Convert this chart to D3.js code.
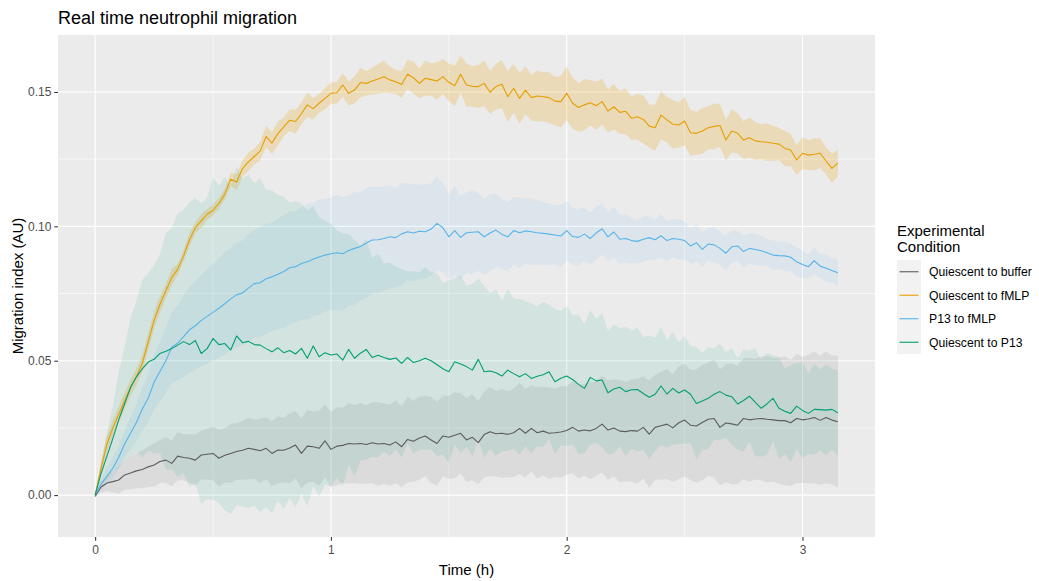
<!DOCTYPE html>
<html>
<head>
<meta charset="utf-8">
<script src="https://cdn.jsdelivr.net/npm/d3@7"></script>
<style>
  body { margin: 0; background: #ffffff; }
  svg { display: block; }
  text { font-family: "Liberation Sans", Arial, Helvetica, sans-serif; }
</style>
</head>
<body>
<svg id="chart" width="1039" height="581"></svg>
<script>
// ---- Data -------------------------------------------------------------
// Migration index (AU), sampled every 0.025 h from 0 to 3.15 h.
const timeStepH = 0.025;

const conditions = ["Quiescent to buffer", "Quiescent to fMLP", "P13 to fMLP", "Quiescent to P13"];
const lineColors = ["#5c5c5c", "#E69F00", "#56B4E9", "#009E73"];
const ribbonColors = ["#999999", "#E69F00", "#56B4E9", "#009E73"];
const ribbonOpacity = [0.2, 0.22, 0.1, 0.1];

const xTicks = [0, 1, 2, 3];
const xTickLabels = ["0", "1", "2", "3"];
const yTicks = [0, 0.05, 0.10, 0.15];
const yTickLabels = ["0.00", "0.05", "0.10", "0.15"];

// Quiescent to buffer
const bufferMean = [
  -0.0005, 0.0030, 0.0045, 0.0050, 0.0056, 0.0075, 0.0082, 0.0090, 0.0095, 0.0105,
  0.0112, 0.0125, 0.0130, 0.0118, 0.0145, 0.0140, 0.0137, 0.0130, 0.0149, 0.0152,
  0.0155, 0.0137, 0.0148, 0.0155, 0.0162, 0.0167, 0.0174, 0.0170, 0.0165, 0.0174,
  0.0155, 0.0168, 0.0167, 0.0175, 0.0186, 0.0155, 0.0182, 0.0180, 0.0174, 0.0202,
  0.0170, 0.0182, 0.0185, 0.0192, 0.0190, 0.0192, 0.0188, 0.0195, 0.0190, 0.0192,
  0.0186, 0.0198, 0.0180, 0.0207, 0.0200, 0.0212, 0.0220, 0.0205, 0.0192, 0.0220,
  0.0215, 0.0223, 0.0230, 0.0205, 0.0215, 0.0195, 0.0225, 0.0236, 0.0228, 0.0230,
  0.0226, 0.0232, 0.0248, 0.0230, 0.0248, 0.0232, 0.0238, 0.0230, 0.0232, 0.0235,
  0.0240, 0.0252, 0.0238, 0.0242, 0.0239, 0.0248, 0.0264, 0.0242, 0.0250, 0.0238,
  0.0236, 0.0240, 0.0238, 0.0252, 0.0227, 0.0252, 0.0258, 0.0264, 0.0250, 0.0269,
  0.0279, 0.0260, 0.0257, 0.0270, 0.0282, 0.0285, 0.0252, 0.0268, 0.0265, 0.0260,
  0.0285, 0.0280, 0.0283, 0.0285, 0.0282, 0.0280, 0.0277, 0.0277, 0.0269, 0.0285,
  0.0280, 0.0283, 0.0289, 0.0278, 0.0289, 0.0279, 0.0273
];
const bufferSE = [
  0.0000, 0.0020, 0.0030, 0.0040, 0.0050, 0.0055, 0.0060, 0.0065, 0.0070, 0.0075,
  0.0080, 0.0080, 0.0085, 0.0085, 0.0090, 0.0085, 0.0090, 0.0095, 0.0090, 0.0095,
  0.0100, 0.0105, 0.0100, 0.0110, 0.0105, 0.0110, 0.0115, 0.0110, 0.0120, 0.0115,
  0.0120, 0.0125, 0.0120, 0.0130, 0.0125, 0.0130, 0.0135, 0.0130, 0.0140, 0.0135,
  0.0140, 0.0145, 0.0140, 0.0150, 0.0145, 0.0150, 0.0145, 0.0150, 0.0155, 0.0150,
  0.0150, 0.0155, 0.0150, 0.0160, 0.0150, 0.0155, 0.0150, 0.0160, 0.0155, 0.0150,
  0.0155, 0.0160, 0.0150, 0.0155, 0.0160, 0.0155, 0.0160, 0.0165, 0.0160, 0.0165,
  0.0160, 0.0165, 0.0170, 0.0165, 0.0160, 0.0170, 0.0165, 0.0170, 0.0165, 0.0170,
  0.0165, 0.0170, 0.0175, 0.0170, 0.0180, 0.0175, 0.0180, 0.0185, 0.0180, 0.0190,
  0.0185, 0.0190, 0.0195, 0.0190, 0.0200, 0.0195, 0.0200, 0.0205, 0.0200, 0.0210,
  0.0210, 0.0205, 0.0210, 0.0215, 0.0210, 0.0220, 0.0215, 0.0220, 0.0225, 0.0220,
  0.0225, 0.0230, 0.0225, 0.0230, 0.0235, 0.0230, 0.0235, 0.0240, 0.0235, 0.0240,
  0.0235, 0.0240, 0.0245, 0.0240, 0.0245, 0.0240, 0.0245
];

// Quiescent to fMLP
const fmlpMean = [
  0.0000, 0.0100, 0.0190, 0.0250, 0.0300, 0.0350, 0.0400, 0.0440, 0.0490, 0.0570,
  0.0650, 0.0710, 0.0760, 0.0810, 0.0840, 0.0890, 0.0950, 0.0995, 0.1020, 0.1045,
  0.1060, 0.1085, 0.1120, 0.1175, 0.1165, 0.1215, 0.1240, 0.1260, 0.1280, 0.1334,
  0.1310, 0.1345, 0.1370, 0.1395, 0.1390, 0.1420, 0.1452, 0.1438, 0.1458, 0.1476,
  0.1495, 0.1497, 0.1526, 0.1495, 0.1507, 0.1535, 0.1532, 0.1541, 0.1548, 0.1557,
  0.1545, 0.1538, 0.1528, 0.1566, 0.1553, 0.1532, 0.1551, 0.1546, 0.1541, 0.1557,
  0.1536, 0.1523, 0.1566, 0.1526, 0.1521, 0.1520, 0.1532, 0.1499, 0.1520, 0.1529,
  0.1482, 0.1514, 0.1476, 0.1507, 0.1479, 0.1485, 0.1482, 0.1479, 0.1466, 0.1464,
  0.1495, 0.1458, 0.1442, 0.1452, 0.1460, 0.1449, 0.1464, 0.1429, 0.1445, 0.1424,
  0.1428, 0.1402, 0.1408, 0.1398, 0.1373, 0.1367, 0.1414, 0.1396, 0.1380, 0.1377,
  0.1392, 0.1348, 0.1346, 0.1355, 0.1367, 0.1372, 0.1375, 0.1321, 0.1355, 0.1346,
  0.1321, 0.1330, 0.1318, 0.1315, 0.1313, 0.1309, 0.1306, 0.1290, 0.1284, 0.1247,
  0.1272, 0.1265, 0.1268, 0.1272, 0.1243, 0.1216, 0.1235
];
const fmlpSE = [
  0.0000, 0.0020, 0.0030, 0.0030, 0.0030, 0.0030, 0.0030, 0.0030, 0.0030, 0.0030,
  0.0030, 0.0030, 0.0025, 0.0030, 0.0020, 0.0020, 0.0025, 0.0020, 0.0025, 0.0020,
  0.0020, 0.0020, 0.0020, 0.0025, 0.0030, 0.0030, 0.0035, 0.0030, 0.0035, 0.0040,
  0.0040, 0.0045, 0.0035, 0.0040, 0.0045, 0.0040, 0.0045, 0.0040, 0.0035, 0.0040,
  0.0040, 0.0040, 0.0045, 0.0045, 0.0050, 0.0055, 0.0045, 0.0050, 0.0055, 0.0060,
  0.0050, 0.0045, 0.0050, 0.0055, 0.0060, 0.0055, 0.0065, 0.0060, 0.0070, 0.0065,
  0.0070, 0.0075, 0.0070, 0.0080, 0.0075, 0.0080, 0.0085, 0.0080, 0.0085, 0.0090,
  0.0095, 0.0090, 0.0095, 0.0090, 0.0085, 0.0095, 0.0090, 0.0095, 0.0090, 0.0095,
  0.0100, 0.0095, 0.0090, 0.0095, 0.0085, 0.0090, 0.0085, 0.0080, 0.0085, 0.0080,
  0.0085, 0.0080, 0.0085, 0.0090, 0.0080, 0.0085, 0.0090, 0.0085, 0.0090, 0.0085,
  0.0090, 0.0085, 0.0080, 0.0085, 0.0080, 0.0085, 0.0080, 0.0075, 0.0080, 0.0075,
  0.0070, 0.0075, 0.0070, 0.0065, 0.0070, 0.0065, 0.0060, 0.0065, 0.0060, 0.0055,
  0.0060, 0.0055, 0.0060, 0.0055, 0.0050, 0.0055, 0.0050
];

// P13 to fMLP
const p13fmlpMean = [
  0.0000, 0.0040, 0.0070, 0.0100, 0.0140, 0.0190, 0.0230, 0.0270, 0.0320, 0.0360,
  0.0420, 0.0460, 0.0500, 0.0550, 0.0565, 0.0590, 0.0615, 0.0630, 0.0650, 0.0665,
  0.0680, 0.0695, 0.0712, 0.0730, 0.0745, 0.0752, 0.0770, 0.0787, 0.0790, 0.0805,
  0.0812, 0.0822, 0.0832, 0.0846, 0.0850, 0.0862, 0.0868, 0.0878, 0.0886, 0.0893,
  0.0898, 0.0902, 0.0898, 0.0910, 0.0918, 0.0925, 0.0938, 0.0949, 0.0950, 0.0955,
  0.0961, 0.0958, 0.0972, 0.0980, 0.0975, 0.0982, 0.0980, 0.0990, 0.1011, 0.0995,
  0.0961, 0.0984, 0.0959, 0.0976, 0.0978, 0.0980, 0.0961, 0.0975, 0.0986, 0.0970,
  0.0961, 0.0984, 0.0976, 0.0983, 0.0980, 0.0976, 0.0974, 0.0971, 0.0968, 0.0964,
  0.0984, 0.0962, 0.0959, 0.0971, 0.0955, 0.0975, 0.0991, 0.0961, 0.0979, 0.0952,
  0.0955, 0.0947, 0.0944, 0.0952, 0.0958, 0.0950, 0.0965, 0.0947, 0.0955, 0.0952,
  0.0947, 0.0927, 0.0939, 0.0914, 0.0934, 0.0931, 0.0918, 0.0900, 0.0924, 0.0927,
  0.0906, 0.0918, 0.0914, 0.0909, 0.0902, 0.0893, 0.0891, 0.0890, 0.0885, 0.0868,
  0.0858, 0.0850, 0.0872, 0.0852, 0.0844, 0.0836, 0.0827
];
const p13fmlpSE = [
  0.0000, 0.0020, 0.0030, 0.0040, 0.0040, 0.0050, 0.0060, 0.0070, 0.0080, 0.0090,
  0.0100, 0.0110, 0.0120, 0.0130, 0.0140, 0.0150, 0.0160, 0.0165, 0.0170, 0.0175,
  0.0180, 0.0185, 0.0190, 0.0190, 0.0195, 0.0195, 0.0200, 0.0200, 0.0205, 0.0205,
  0.0200, 0.0205, 0.0210, 0.0210, 0.0205, 0.0210, 0.0215, 0.0210, 0.0215, 0.0210,
  0.0210, 0.0215, 0.0210, 0.0205, 0.0210, 0.0200, 0.0205, 0.0200, 0.0195, 0.0195,
  0.0190, 0.0185, 0.0190, 0.0180, 0.0180, 0.0175, 0.0175, 0.0170, 0.0175, 0.0165,
  0.0160, 0.0165, 0.0155, 0.0150, 0.0155, 0.0145, 0.0140, 0.0145, 0.0135, 0.0130,
  0.0130, 0.0125, 0.0130, 0.0120, 0.0125, 0.0120, 0.0115, 0.0115, 0.0110, 0.0115,
  0.0110, 0.0105, 0.0105, 0.0100, 0.0095, 0.0100, 0.0095, 0.0090, 0.0095, 0.0090,
  0.0090, 0.0085, 0.0080, 0.0085, 0.0080, 0.0075, 0.0080, 0.0075, 0.0070, 0.0075,
  0.0070, 0.0065, 0.0070, 0.0065, 0.0060, 0.0065, 0.0060, 0.0065, 0.0060, 0.0055,
  0.0060, 0.0055, 0.0060, 0.0055, 0.0050, 0.0055, 0.0050, 0.0055, 0.0050, 0.0055,
  0.0050, 0.0045, 0.0050, 0.0045, 0.0050, 0.0045, 0.0050
];

// Quiescent to P13
const p13Mean = [
  0.0000, 0.0080, 0.0145, 0.0210, 0.0280, 0.0340, 0.0400, 0.0440, 0.0470, 0.0495,
  0.0505, 0.0527, 0.0535, 0.0545, 0.0558, 0.0571, 0.0560, 0.0575, 0.0527, 0.0545,
  0.0583, 0.0560, 0.0564, 0.0540, 0.0592, 0.0567, 0.0572, 0.0560, 0.0558, 0.0545,
  0.0533, 0.0548, 0.0530, 0.0538, 0.0525, 0.0546, 0.0509, 0.0555, 0.0515, 0.0530,
  0.0521, 0.0525, 0.0502, 0.0542, 0.0509, 0.0528, 0.0542, 0.0512, 0.0520, 0.0512,
  0.0505, 0.0510, 0.0490, 0.0512, 0.0493, 0.0500, 0.0509, 0.0500, 0.0485, 0.0470,
  0.0459, 0.0496, 0.0488, 0.0478, 0.0465, 0.0505, 0.0459, 0.0462, 0.0455, 0.0443,
  0.0465, 0.0452, 0.0440, 0.0452, 0.0434, 0.0442, 0.0448, 0.0459, 0.0422, 0.0435,
  0.0443, 0.0430, 0.0412, 0.0397, 0.0438, 0.0425, 0.0428, 0.0381, 0.0395, 0.0401,
  0.0385, 0.0392, 0.0393, 0.0378, 0.0364, 0.0375, 0.0406, 0.0376, 0.0397, 0.0380,
  0.0391, 0.0375, 0.0341, 0.0350, 0.0360, 0.0375, 0.0385, 0.0372, 0.0366, 0.0339,
  0.0352, 0.0368, 0.0345, 0.0323, 0.0340, 0.0360, 0.0323, 0.0312, 0.0304, 0.0331,
  0.0315, 0.0304, 0.0319, 0.0318, 0.0316, 0.0319, 0.0306
];
const p13SE = [
  0.000, 0.004, 0.009, 0.012, 0.018, 0.021, 0.026, 0.028, 0.033, 0.033,
  0.035, 0.037, 0.044, 0.045, 0.049, 0.049, 0.053, 0.053, 0.056, 0.056,
  0.060, 0.059, 0.062, 0.061, 0.063, 0.061, 0.062, 0.060, 0.062, 0.059,
  0.060, 0.057, 0.058, 0.055, 0.057, 0.054, 0.055, 0.052, 0.052, 0.049,
  0.049, 0.046, 0.047, 0.043, 0.044, 0.040, 0.041, 0.037, 0.038, 0.035,
  0.036, 0.034, 0.035, 0.032, 0.034, 0.033, 0.034, 0.033, 0.034, 0.032,
  0.034, 0.031, 0.033, 0.030, 0.032, 0.030, 0.032, 0.029, 0.031, 0.028,
  0.030, 0.028, 0.029, 0.027, 0.028, 0.026, 0.027, 0.025, 0.027, 0.025,
  0.026, 0.024, 0.026, 0.024, 0.025, 0.023, 0.025, 0.023, 0.024, 0.022,
  0.024, 0.022, 0.023, 0.021, 0.023, 0.021, 0.022, 0.020, 0.021, 0.019,
  0.020, 0.018, 0.021, 0.018, 0.019, 0.017, 0.018, 0.016, 0.018, 0.017,
  0.019, 0.017, 0.020, 0.018, 0.019, 0.016, 0.019, 0.016, 0.018, 0.016,
  0.018, 0.015, 0.017, 0.015, 0.017, 0.015, 0.016
];

const seriesMeans = [bufferMean, fmlpMean, p13fmlpMean, p13Mean];
const seriesSE = [bufferSE, fmlpSE, p13fmlpSE, p13SE];

// ---- Layout -----------------------------------------------------------
const panel = { left: 58, right: 875, top: 35, bottom: 537 };
const yLimits = [-0.0156, 0.1712];

const svg = d3.select("#chart");

const series = conditions.map((name, k) => ({
  name,
  color: lineColors[k],
  fill: ribbonColors[k],
  opacity: ribbonOpacity[k],
  points: seriesMeans[k].map((m, i) => ({ t: i * timeStepH, mean: m, se: seriesSE[k][i] }))
}));

const tMax = (seriesMeans[0].length - 1) * timeStepH;
const xPad = 0.05 * tMax;
const x = d3.scaleLinear().domain([-xPad, tMax + xPad]).range([panel.left, panel.right]);
const y = d3.scaleLinear().domain(yLimits).range([panel.bottom, panel.top]);

// Panel background
svg.append("rect")
  .attr("x", panel.left).attr("y", panel.top)
  .attr("width", panel.right - panel.left).attr("height", panel.bottom - panel.top)
  .attr("fill", "#EBEBEB");

// Minor grid
const xMinor = [0.5, 1.5, 2.5];
const yMinor = [0.025, 0.075, 0.125];
const grid = svg.append("g");
grid.selectAll(".xminor").data(xMinor).enter().append("line")
  .attr("x1", d => x(d)).attr("x2", d => x(d))
  .attr("y1", panel.top).attr("y2", panel.bottom)
  .attr("stroke", "#ffffff").attr("stroke-width", 0.6);
grid.selectAll(".yminor").data(yMinor).enter().append("line")
  .attr("x1", panel.left).attr("x2", panel.right)
  .attr("y1", d => y(d)).attr("y2", d => y(d))
  .attr("stroke", "#ffffff").attr("stroke-width", 0.6);
// Major grid
grid.selectAll(".xmajor").data(xTicks).enter().append("line")
  .attr("x1", d => x(d)).attr("x2", d => x(d))
  .attr("y1", panel.top).attr("y2", panel.bottom)
  .attr("stroke", "#ffffff").attr("stroke-width", 1.15);
grid.selectAll(".ymajor").data(yTicks).enter().append("line")
  .attr("x1", panel.left).attr("x2", panel.right)
  .attr("y1", d => y(d)).attr("y2", d => y(d))
  .attr("stroke", "#ffffff").attr("stroke-width", 1.15);

// Ribbons (mean ± SE)
const area = d3.area()
  .x(d => x(d.t))
  .y0(d => y(d.mean - d.se))
  .y1(d => y(d.mean + d.se));

svg.append("g").selectAll("path").data(series).enter().append("path")
  .attr("d", d => area(d.points))
  .attr("fill", d => d.fill)
  .attr("fill-opacity", d => d.opacity)
  .attr("stroke", "none");

// Mean lines
const line = d3.line().x(d => x(d.t)).y(d => y(d.mean));
svg.append("g").selectAll("path").data(series).enter().append("path")
  .attr("d", d => line(d.points))
  .attr("fill", "none")
  .attr("stroke", d => d.color)
  .attr("stroke-width", 1.1)
  .attr("stroke-linejoin", "round");

// Axes
const xAxis = d3.axisBottom(x).tickValues(xTicks).tickFormat((d, i) => xTickLabels[i]).tickSize(3.7).tickPadding(5);
const yAxis = d3.axisLeft(y).tickValues(yTicks).tickFormat((d, i) => yTickLabels[i]).tickSize(3.7).tickPadding(3);

const gx = svg.append("g").attr("transform", `translate(0,${panel.bottom})`).call(xAxis);
const gy = svg.append("g").attr("transform", `translate(${panel.left},0)`).call(yAxis);
[gx, gy].forEach(g => {
  g.select(".domain").remove();
  g.selectAll(".tick line").attr("stroke", "#333333").attr("stroke-width", 1.05);
  g.selectAll(".tick text")
    .attr("fill", "#4D4D4D")
    .style("font-family", '"Liberation Sans", Arial, sans-serif')
    .style("font-size", "12px");
});

// Titles
svg.append("text")
  .attr("x", panel.left).attr("y", 24)
  .attr("fill", "#000000")
  .style("font-size", "18px")
  .text("Real time neutrophil migration");

svg.append("text")
  .attr("x", (panel.left + panel.right) / 2).attr("y", 575)
  .attr("text-anchor", "middle")
  .attr("fill", "#000000")
  .style("font-size", "15px")
  .text("Time (h)");

svg.append("text")
  .attr("transform", `translate(23,${(panel.top + panel.bottom) / 2}) rotate(-90)`)
  .attr("text-anchor", "middle")
  .attr("fill", "#000000")
  .style("font-size", "15px")
  .text("Migration index (AU)");

// Legend
const legend = svg.append("g").attr("transform", "translate(897,0)");
legend.append("text").attr("x", 0).attr("y", 236).style("font-size", "15px").attr("fill", "#000").text("Experimental");
legend.append("text").attr("x", 0).attr("y", 252).style("font-size", "15px").attr("fill", "#000").text("Condition");

const rowY = d3.scaleBand().domain(conditions).range([260, 354]);
legend.append("rect")
  .attr("x", 0).attr("y", 260).attr("width", 24).attr("height", 94)
  .attr("fill", "#F2F2F2");
const rows = legend.selectAll(".row").data(series).enter().append("g")
  .attr("transform", d => `translate(0,${rowY(d.name) + rowY.bandwidth() / 2})`);
rows.append("line")
  .attr("x1", 2.5).attr("x2", 21.5).attr("y1", 0).attr("y2", 0)
  .attr("stroke", d => d.color).attr("stroke-width", 1.1);
rows.append("text")
  .attr("x", 32).attr("y", 0).attr("dy", "0.35em")
  .style("font-size", "12.2px").attr("fill", "#000")
  .text(d => d.name);
</script>
</body>
</html>
